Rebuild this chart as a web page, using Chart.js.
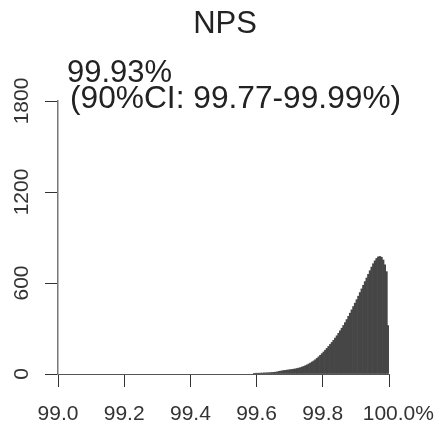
<!DOCTYPE html>
<html>
<head>
<meta charset="utf-8">
<script src="https://cdn.jsdelivr.net/npm/chart.js@4/dist/chart.umd.min.js"></script>
<style>
  html, body { margin: 0; padding: 0; background: #fff; }
  #wrap { width: 443px; height: 435px; position: relative; }
</style>
</head>
<body>
<div id="wrap"><canvas id="npsChart"></canvas></div>
<script>
// histogram bins (centres, width 0.005) and counts
const binCenters = [
  99.5925, 99.5975, 99.6025, 99.6075, 99.6125, 99.6175, 99.6225, 99.6275, 99.6325, 99.6375,
  99.6425, 99.6475, 99.6525, 99.6575, 99.6625, 99.6675, 99.6725, 99.6775, 99.6825, 99.6875,
  99.6925, 99.6975, 99.7025, 99.7075, 99.7125, 99.7175, 99.7225, 99.7275, 99.7325, 99.7375,
  99.7425, 99.7475, 99.7525, 99.7575, 99.7625, 99.7675, 99.7725, 99.7775, 99.7825, 99.7875,
  99.7925, 99.7975, 99.8025, 99.8075, 99.8125, 99.8175, 99.8225, 99.8275, 99.8325, 99.8375,
  99.8425, 99.8475, 99.8525, 99.8575, 99.8625, 99.8675, 99.8725, 99.8775, 99.8825, 99.8875,
  99.8925, 99.8975, 99.9025, 99.9075, 99.9125, 99.9175, 99.9225, 99.9275, 99.9325, 99.9375,
  99.9425, 99.9475, 99.9525, 99.9575, 99.9625, 99.9675, 99.9725, 99.9775, 99.9825, 99.9875,
  99.9925, 99.9975
];
const counts = [
  4, 5, 5, 5, 6, 6, 7, 7, 8, 8,
  9, 10, 11, 12, 14, 17, 19, 21, 23, 24,
  26, 27, 29, 30, 32, 34, 36, 39, 42, 46,
  50, 55, 60, 66, 72, 79, 86, 94, 103, 113,
  123, 134, 145, 157, 169, 182, 195, 208, 222, 237,
  252, 268, 285, 302, 320, 339, 359, 380, 401, 423,
  445, 467, 490, 513, 537, 561, 585, 609, 633, 657,
  681, 705, 727, 746, 762, 772, 775, 770, 752, 720,
  675, 320
];
const xTicks = [99.0, 99.2, 99.4, 99.6, 99.8, 100.0];
const yTicks = [0, 600, 1200, 1800];

const titleText = 'NPS';
const estimateText = '99.93%';
const ciText = '(90%CI: 99.77-99.99%)';

const fontFamily = '"Liberation Sans", Arial, Helvetica, sans-serif';
const tickSize = 21;
const tickLen = 13;
const xPad = 15;

// title, estimate text and the "%" after the last x label
const textPlugin = {
  id: 'npsText',
  afterDraw(chart) {
    const ctx = chart.ctx;
    const xs = chart.scales.x;
    ctx.save();
    ctx.fillStyle = '#222';
    ctx.font = '31px ' + fontFamily;
    ctx.textBaseline = 'alphabetic';
    ctx.textAlign = 'center';
    ctx.fillText(titleText, 225, 33);
    ctx.textAlign = 'left';
    ctx.fillText(estimateText, 67, 82);
    ctx.font = '31.7px ' + fontFamily;
    ctx.fillText(ciText, 70, 108);

    ctx.font = tickSize + 'px ' + fontFamily;
    ctx.fillStyle = '#333';
    const last = xTicks[xTicks.length - 1];
    const lbl = last.toFixed(1);
    const px = xs.getPixelForValue(last) + ctx.measureText(lbl).width / 2;
    ctx.textBaseline = 'middle';
    ctx.fillText('%', px, xs.top + tickLen + xPad + tickSize * 1.2 / 2);
    ctx.restore();
  }
};

const ctx = document.getElementById('npsChart');
new Chart(ctx, {
  type: 'bar',
  data: {
    datasets: [{
      data: binCenters.map((c, i) => ({ x: c, y: counts[i] })),
      backgroundColor: '#464646',
      borderWidth: 0,
      barPercentage: 1,
      categoryPercentage: 1
    }]
  },
  options: {
    responsive: true,
    maintainAspectRatio: false,
    animation: false,
    layout: { padding: { top: 101, right: 54, left: 0, bottom: 0 } },
    plugins: {
      legend: { display: false },
      tooltip: { enabled: false },
      title: { display: false }
    },
    scales: {
      x: {
        type: 'linear',
        min: 99.0,
        max: 100.0,
        offset: false,
        afterBuildTicks: function (scale) {
          scale.ticks = xTicks.map(v => ({ value: v }));
        },
        afterFit: function (scale) { scale.height = 61; },
        ticks: {
          callback: v => Number(v).toFixed(1),
          font: { size: tickSize, family: fontFamily },
          color: '#333',
          padding: xPad,
          maxRotation: 0,
          autoSkip: false
        },
        grid: { offset: false, drawOnChartArea: false, tickLength: tickLen, color: '#333' },
        border: { color: '#555', width: 1 }
      },
      y: {
        min: 0,
        max: 1800,
        afterBuildTicks: function (scale) {
          scale.ticks = yTicks.map(v => ({ value: v }));
        },
        afterFit: function (scale) { scale.width = 58; },
        ticks: {
          callback: v => String(v),
          font: { size: tickSize, family: fontFamily },
          color: '#333',
          minRotation: 90,
          maxRotation: 90,
          crossAlign: 'center',
          padding: -1
        },
        grid: { offset: false, drawOnChartArea: false, tickLength: tickLen, color: '#333' },
        border: { color: '#777', width: 1.5 }
      }
    }
  },
  plugins: [textPlugin]
});
</script>
</body>
</html>
